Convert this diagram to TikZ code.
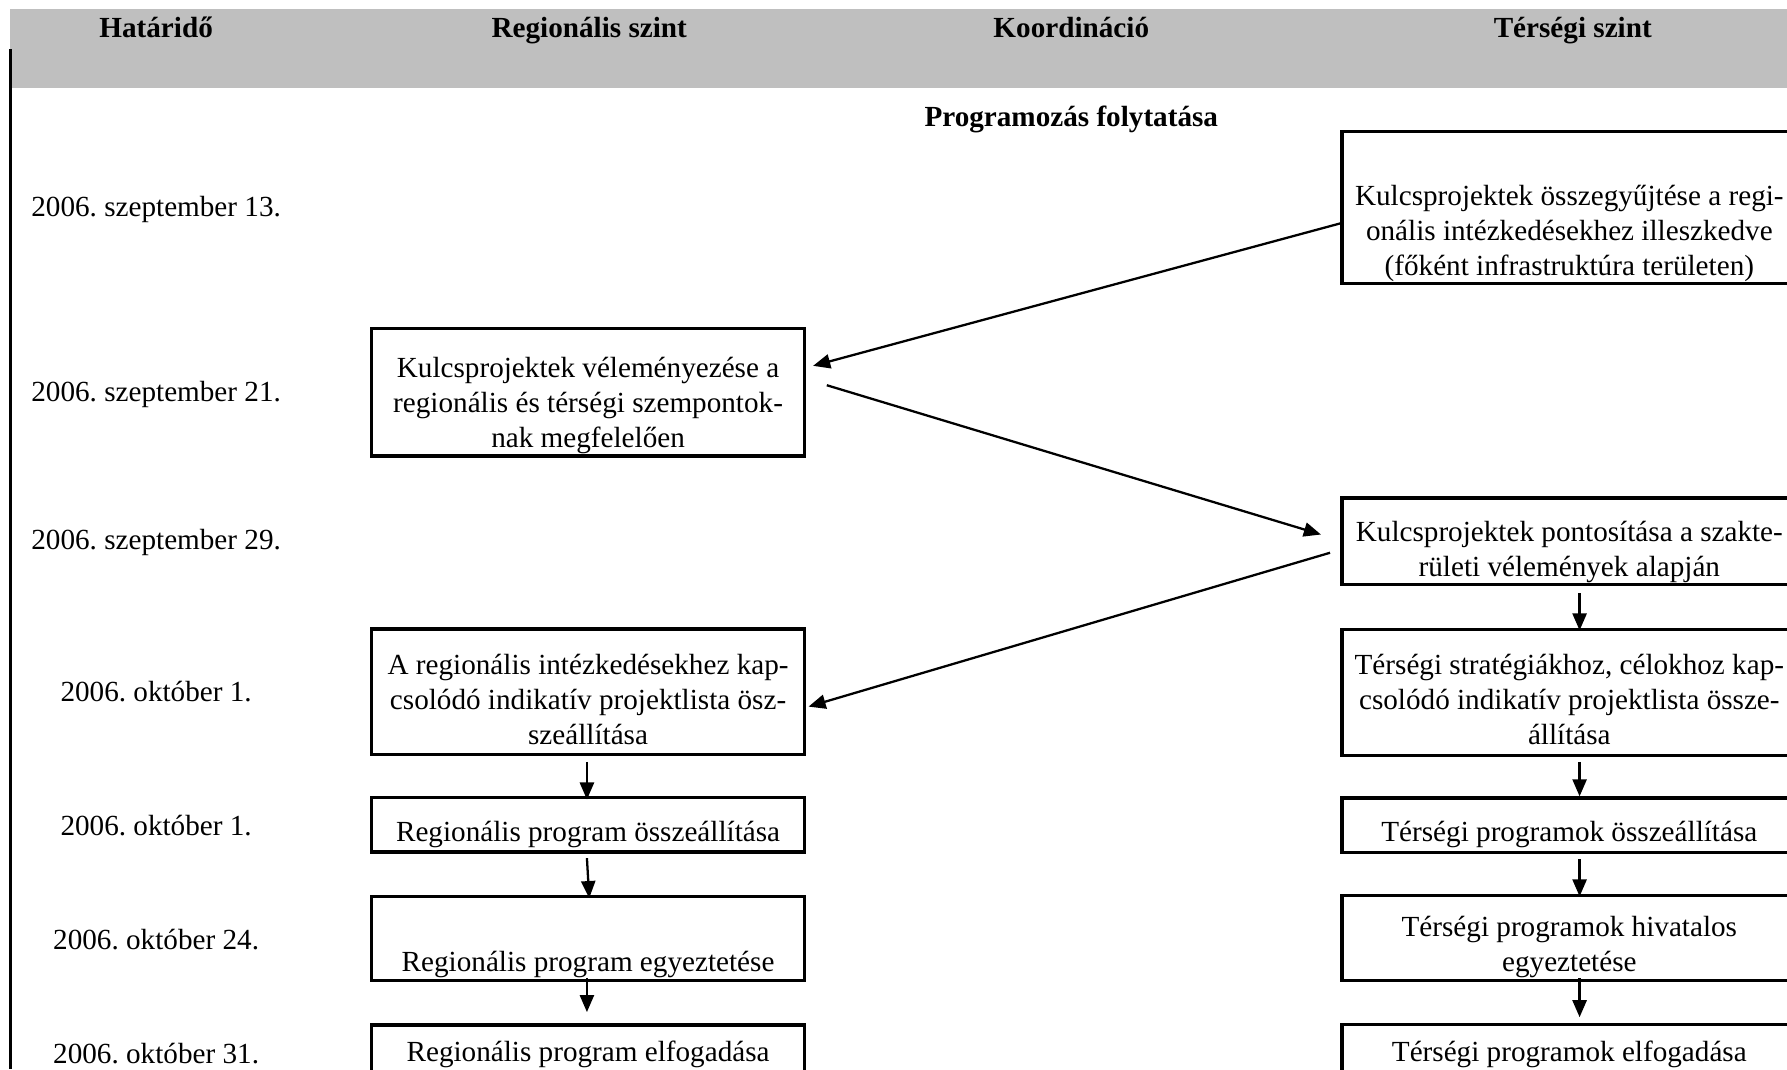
\documentclass[tikz,border=0pt]{standalone}
\usepackage{fontspec}
\setmainfont{Liberation Serif}
\usetikzlibrary{arrows.meta,calc}
\definecolor{hdrgray}{RGB}{191,191,191}
\frenchspacing
\begin{document}
\begin{tikzpicture}[x=0.5pt,y=-0.5pt,
  every node/.style={font=\fontsize{12.8}{15.3}\selectfont\frenchspacing, inner sep=0pt},
  box/.style={draw, line width=1.45pt, inner sep=0pt},
  lbox/.style={box, minimum width=190pt},
  rbox/.style={box, minimum width=200pt},
  lbl/.style={align=center},
  hdr/.style={font=\fontsize{12.8}{15.3}\selectfont\bfseries, anchor=base},
  arr/.style={line width=1pt, -{Triangle[length=7.5pt,width=6.2pt]}},
]
\useasboundingbox (0,0) rectangle (1568,938);
\clip (0,0) rectangle (1568,938);
\fill[hdrgray] (9,8) rectangle (1568,77);
\draw[line width=1.3pt] (9.5,43) -- (9.5,938);

% headers
\node[hdr] (h1) at (137,32.5) {Határidő};
\node[hdr] (h2) at (517,32.5) {Regionális szint};
\node[hdr] (h3) at (940,32.5) {Koordináció};
\node[hdr] (h4) at (1380,32.5) {Térségi szint};
\node[hdr] (sub) at (940,111) {Programozás folytatása};

% dates
\node (d1) at (137,184) {2006. szeptember 13.};
\node (d2) at (137,346) {2006. szeptember 21.};
\node (d3) at (137,476) {2006. szeptember 29.};
\node (d4) at (137,607) {2006. október 1.};
\node (d5) at (137,724) {2006. október 1.};
\node (d6) at (137,824) {2006. október 24.};
\node (d7) at (137,924) {2006. október 31.};

% left boxes
\node[lbox, minimum height=56pt] (L1) at (516,344) {};
\node[lbl] (L1t) at (516,355.5) {Kulcsprojektek véleményezése a\\regionális és térségi szempontok-\\nak megfelelően};
\node[lbox, minimum height=55pt] (L2) at (516,607) {};
\node[lbl] (L2t) at (516,614) {A regionális intézkedésekhez kap-\\csolódó indikatív projektlista ösz-\\szeállítása};
\node[lbox, minimum height=23.75pt] (L3) at (516,723.75) {};
\node[lbl] (L3t) at (516,732) {Regionális program összeállítása};
\node[lbox, minimum height=37pt] (L4) at (516,823.5) {};
\node[lbl] (L4t) at (516,846) {Regionális program egyeztetése};
\node[lbox, minimum height=35.5pt] (L5) at (516,935) {};
\node[lbl] (L5t) at (516,925) {Regionális program elfogadása};

% right boxes
\node[rbox, minimum height=66.5pt] (R1) at (1377.5,182) {};
\node[lbl] (R1t) at (1377,205) {Kulcsprojektek összegyűjtése a regi-\\onális intézkedésekhez illeszkedve\\(főként infrastruktúra területen)};
\node[rbox, minimum height=38pt] (R2) at (1377.5,475) {};
\node[lbl] (R2t) at (1377,484.5) {Kulcsprojektek pontosítása a szakte-\\rületi vélemények alapján};
\node[rbox, minimum height=55pt] (R3) at (1377.5,607.6) {};
\node[lbl] (R3t) at (1377,614) {Térségi stratégiákhoz, célokhoz kap-\\csolódó indikatív projektlista össze-\\állítása};
\node[rbox, minimum height=23.8pt] (R4) at (1377.5,724) {};
\node[lbl] (R4t) at (1377,732.5) {Térségi programok összeállítása};
\node[rbox, minimum height=37.3pt] (R5) at (1377.5,823.3) {};
\node[lbl] (R5t) at (1377,831) {Térségi programok hivatalos\\egyeztetése};
\node[rbox, minimum height=35.5pt] (R6) at (1377.5,934.5) {};
\node[lbl] (R6t) at (1377,925) {Térségi programok elfogadása};

% diagonal arrows
\draw[arr] ($(R1.west)+(0,14)$) -- ($(L1.east)+(6,-23)$);
\draw[arr] ($(L1.east)+(18,-6)$) -- ($(R2.west)+(-17,-6)$);
\draw[arr] ($(R2.west)+(-9,10)$) -- ($(L2.east)+(2,13)$);

% vertical arrows left
\draw[arr] ($(L2.south)+(-1,5)$) -- ($(L3.north)+(-1,3)$);
\draw[arr] ($(L3.south)+(-1,4)$) -- ($(L4.north)+(1,3)$);
\draw[arr] ($(L4.south)+(-1,-4)$) -- ($(L5.north)+(-1,-10)$);

% vertical arrows right
\draw[arr] ($(R2.south)+(8.5,6)$) -- ($(R3.north)+(8.5,2)$);
\draw[arr] ($(R3.south)+(8.5,4.5)$) -- ($(R4.north)+(8.5,0)$);
\draw[arr] ($(R4.south)+(8.5,4.5)$) -- ($(R5.north)+(8.5,2)$);
\draw[arr] ($(R5.south)+(8.5,-4)$) -- ($(R6.north)+(8.5,-5)$);
\end{tikzpicture}
\end{document}
